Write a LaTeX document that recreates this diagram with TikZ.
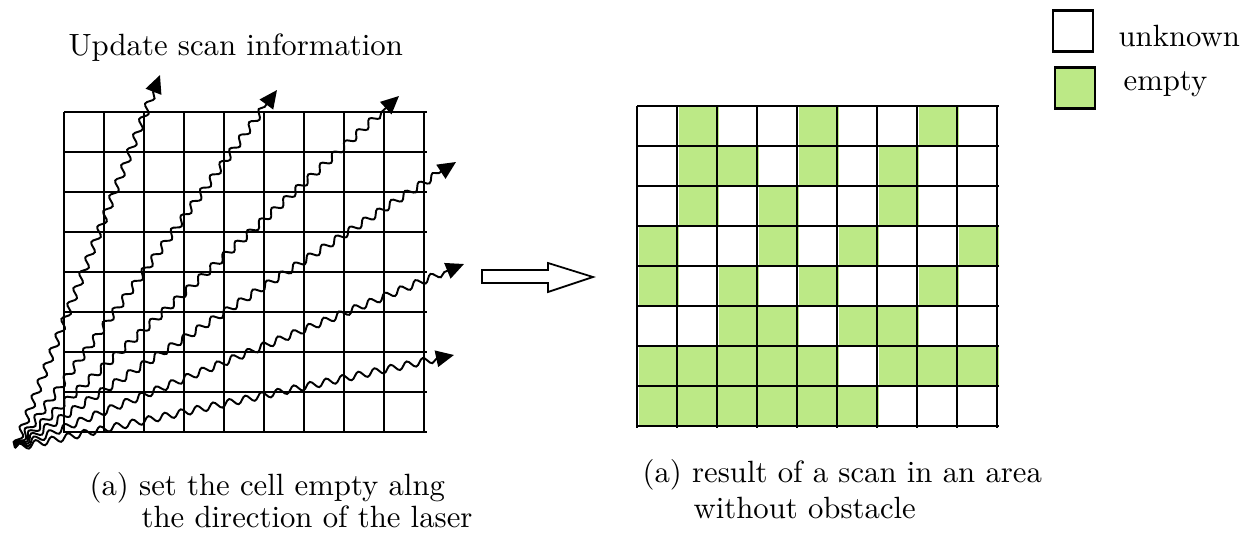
\documentclass[tikz,border=0pt]{standalone}
\usetikzlibrary{decorations.pathmorphing, arrows.meta}
\definecolor{emptygreen}{RGB}{188,233,134}
\tikzset{
  gridline/.style={line width=1.2pt},
  scanray/.style={line width=1.1pt, decorate,
                  decoration={snake, segment length=0.33cm, amplitude=0.07cm,
                              post length=0.34cm},
                  -{Triangle[length=0.36cm, width=0.33cm]}},
  emptycell/.style={fill=emptygreen},
  legendbox/.style={draw, line width=1.2pt, minimum width=0.8cm,
                    minimum height=0.82cm, inner sep=0pt},
  label/.style={scale=1.75, inner sep=0pt, anchor=base west}
}

\begin{document}
\begin{tikzpicture}[x=0.02cm, y=-0.02cm]
  \useasboundingbox (0,0) rectangle (1249,534);
  % left grid with the laser rays
  \foreach \r in {0,...,8}
    \draw[gridline] (64,112+40*\r) -- (427,112+40*\r);
  \foreach \c in {0,...,9}
    \draw[gridline] (64+40*\c,112) -- (64+40*\c,433);
  \coordinate (laser) at (15,448);
  \coordinate (ra) at (160,75);
  \coordinate (rb) at (277,90);
  \coordinate (rc) at (399,96);
  \coordinate (rd) at (456,162);
  \coordinate (re) at (464,264);
  \coordinate (rf) at (454,355);
  \foreach \t in {ra,rb,rc,rd,re,rf}
    \draw[scanray] (laser) -- (\t);
  \node[label] (update) at (68,55) {Update scan information};

  % block arrow
  \draw[line width=1pt, fill=white] (482,270) -- (548,270) -- (548,263)
    -- (593,277) -- (548,292) -- (548,283) -- (482,283) -- cycle;

  % right grid, empty cells
  \foreach \row/\cols in {1/{2,5,8}, 2/{2,3,5,7}, 3/{2,4,7}, 4/{1,4,6,9},
                          5/{1,3,5,8}, 6/{3,4,6,7}, 7/{1,2,3,4,5,7,8,9},
                          8/{1,2,3,4,5,6}}
    \foreach \c in \cols
      \fill[emptycell] (599+40*\c,66+40*\row) rectangle ++(40,40);
  \foreach \r in {0,...,8}
    \draw[gridline] (637,106+40*\r) -- (999,106+40*\r);
  \foreach \c in {0,...,9}
    \draw[gridline] (637+40*\c,106) -- (637+40*\c,428);

  % legend
  \node[legendbox] (unknownbox) at (1073,31) {};
  \node[label] (unknowntext) at (1118,47) {unknown};
  \node[legendbox, fill=emptygreen] (emptybox) at (1075,88) {};
  \node[label] (emptytext) at (1123,91) {empty};

  % captions
  \node[label] (capa) at (89,495) {(a) set the cell empty alng};
  \node[label] (capb) at (141,527) {the direction of the laser};
  \node[label] (capc) at (642,482) {(a) result of a scan in an area};
  \node[label] (capd) at (693,518) {without obstacle};
\end{tikzpicture}
\end{document}
